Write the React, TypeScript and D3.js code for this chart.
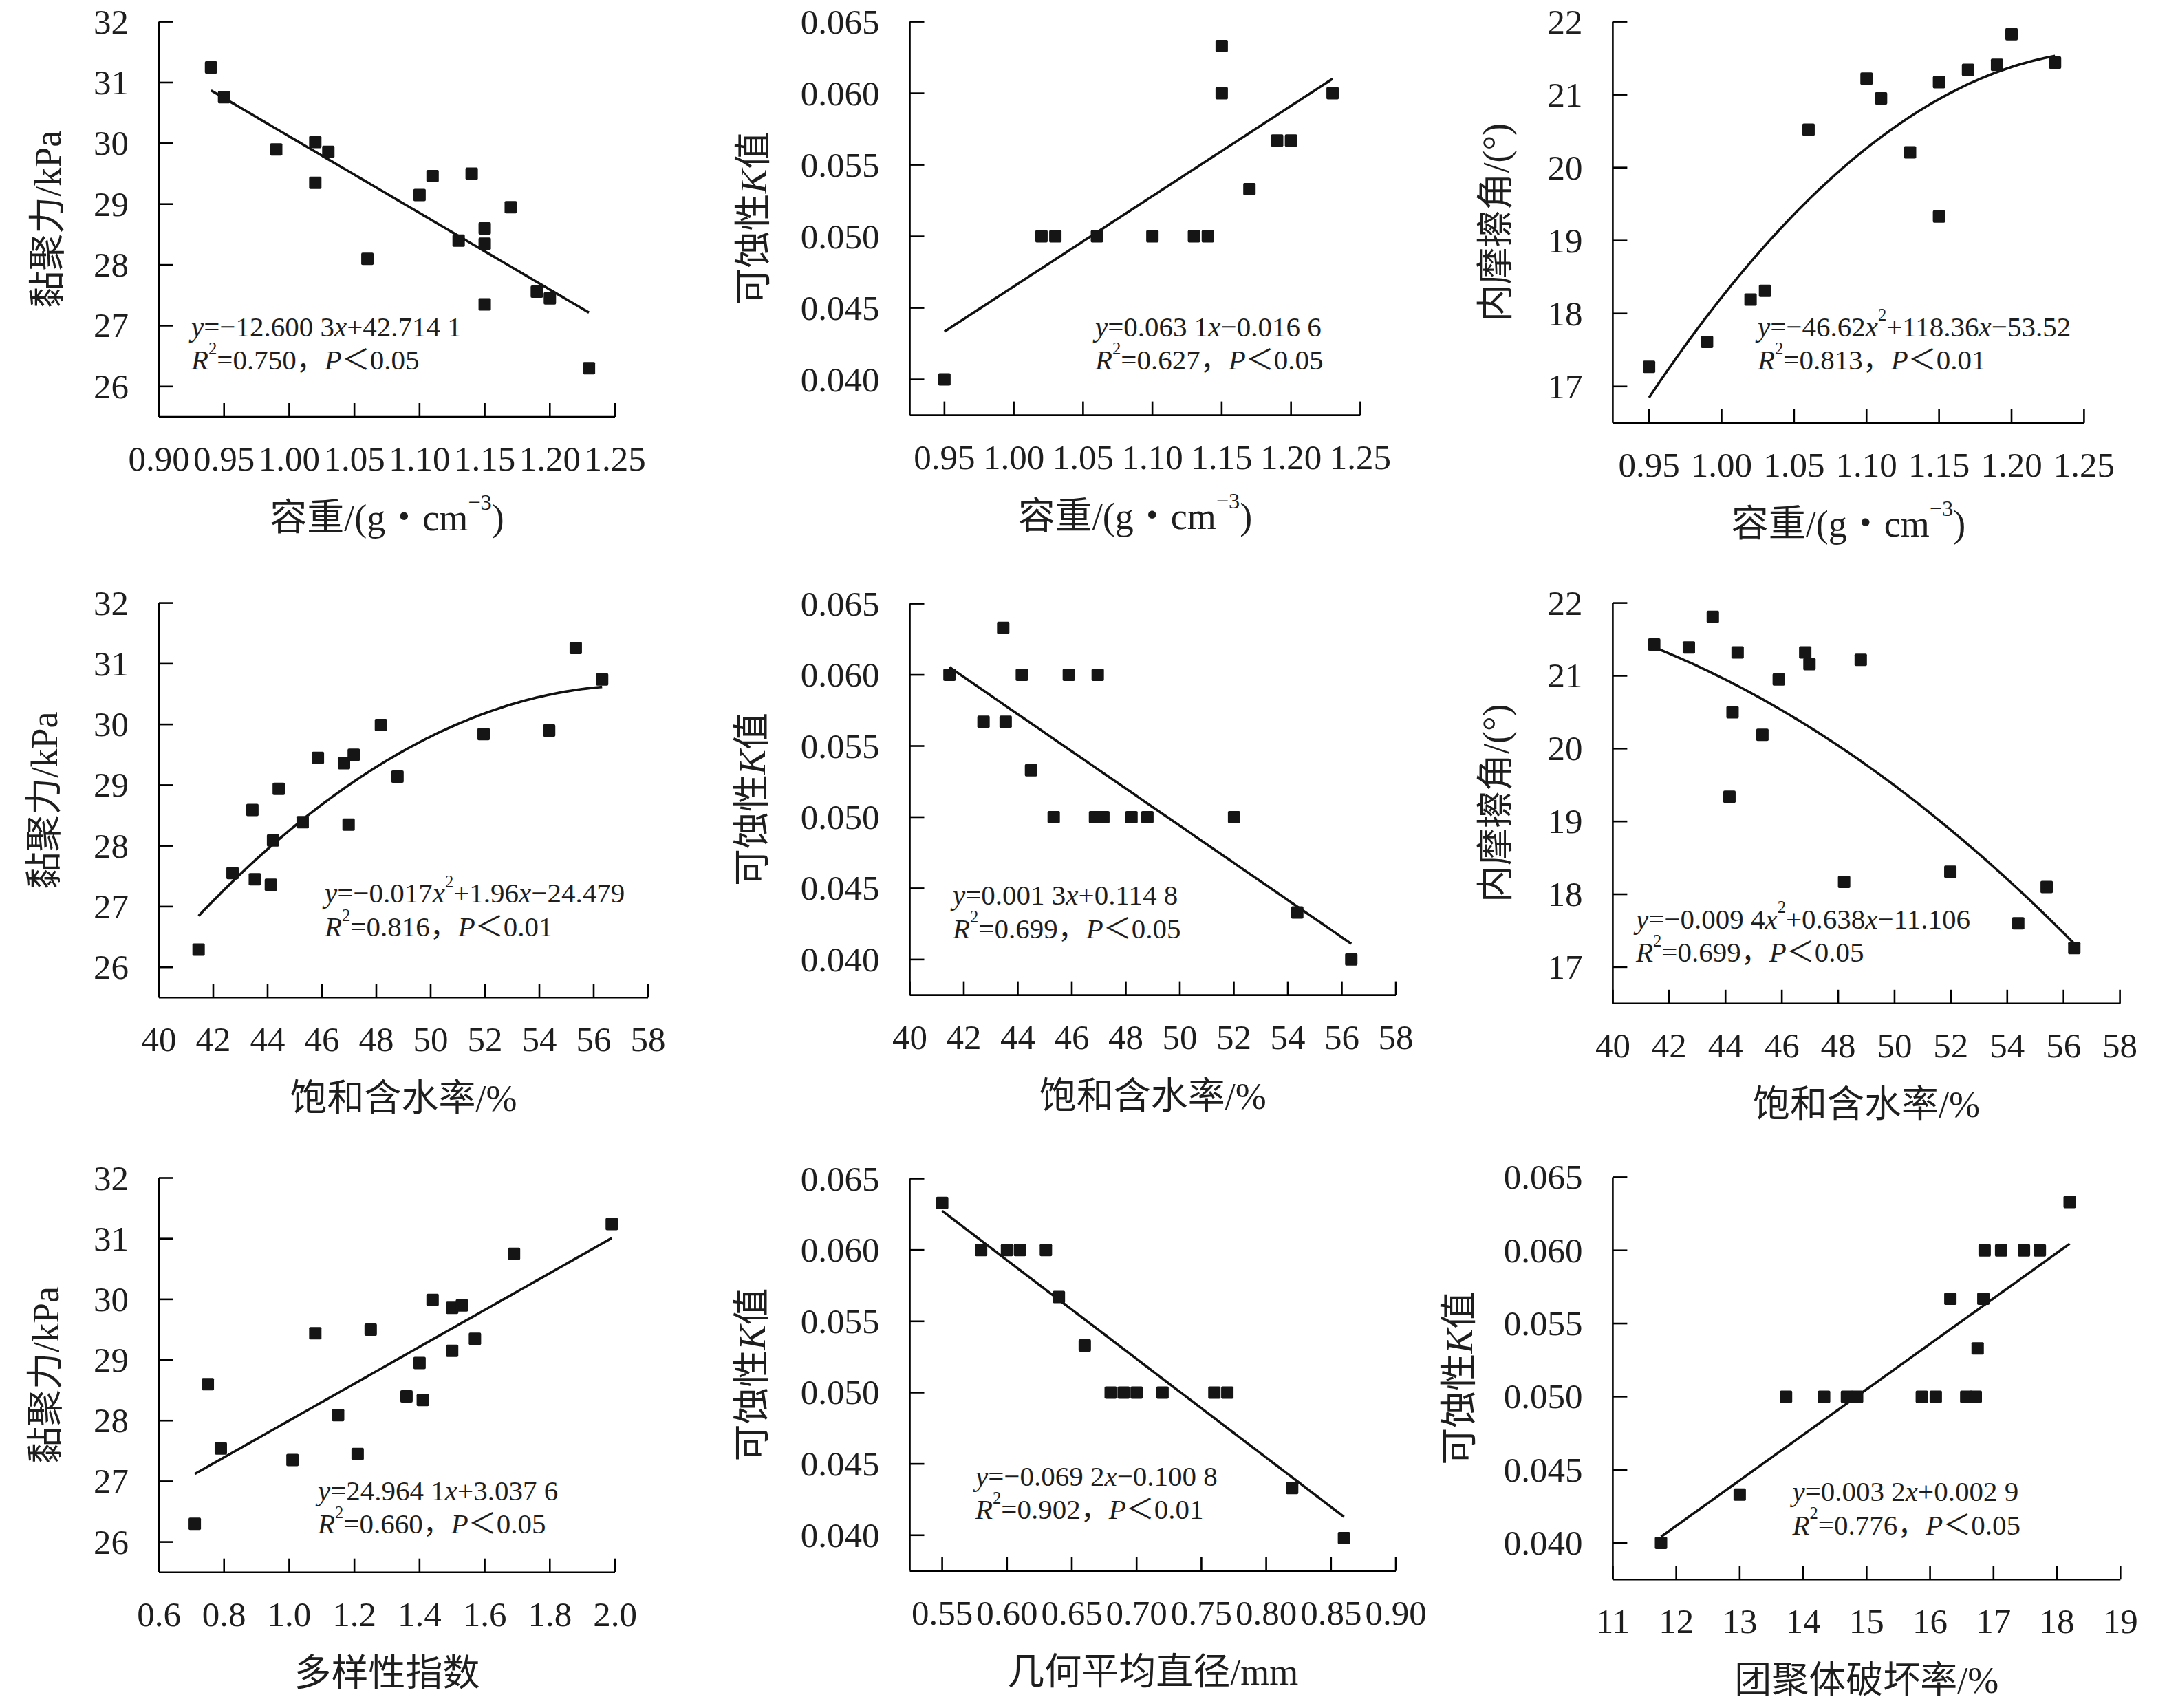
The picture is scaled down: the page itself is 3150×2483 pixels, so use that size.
import React from 'react';
import * as d3 from 'd3';

const W = 3150;
const H = 2483;
const FONT = '"Liberation Serif", "Times New Roman", "Noto Sans CJK SC", serif';
const INK = '#1e1e1e';

// ---------- tick values ----------
const bdTicksA = [0.9, 0.95, 1.0, 1.05, 1.1, 1.15, 1.2, 1.25];
const bdTicksB = [0.95, 1.0, 1.05, 1.1, 1.15, 1.2, 1.25];
const swcTicks = [40, 42, 44, 46, 48, 50, 52, 54, 56, 58];
const divTicks = [0.6, 0.8, 1.0, 1.2, 1.4, 1.6, 1.8, 2.0];
const gmdTicks = [0.55, 0.6, 0.65, 0.7, 0.75, 0.8, 0.85, 0.9];
const adrTicks = [11, 12, 13, 14, 15, 16, 17, 18, 19];
const cohTicks = [26, 27, 28, 29, 30, 31, 32];
const kTicks = [0.04, 0.045, 0.05, 0.055, 0.06, 0.065];
const phiTicks = [17, 18, 19, 20, 21, 22];

// ---------- data ----------
// (a) cohesion vs bulk density
const bdA = [0.94, 0.95, 0.99, 1.02, 1.03, 1.02, 1.06, 1.10, 1.11, 1.14, 1.13, 1.15, 1.15, 1.15, 1.17, 1.19, 1.20, 1.23];
const cohA = [31.25, 30.76, 29.90, 30.02, 29.86, 29.35, 28.10, 29.15, 29.46, 29.50, 28.40, 28.60, 28.35, 27.35, 28.95, 27.56, 27.45, 26.30];
// (b) K vs bulk density
const bdB = [0.95, 1.02, 1.03, 1.06, 1.10, 1.13, 1.14, 1.15, 1.15, 1.17, 1.19, 1.20, 1.23];
const kB = [0.0400, 0.0500, 0.0500, 0.0500, 0.0500, 0.0500, 0.0500, 0.0633, 0.0600, 0.0533, 0.0567, 0.0567, 0.0600];
// (c) friction angle vs bulk density
const bdC = [0.95, 0.99, 1.02, 1.03, 1.06, 1.10, 1.11, 1.13, 1.15, 1.15, 1.17, 1.19, 1.20, 1.23];
const phiC = [17.27, 17.61, 18.19, 18.31, 20.52, 21.22, 20.95, 20.21, 21.17, 19.33, 21.34, 21.41, 21.83, 21.44];
// (d) cohesion vs saturated water content
const swcD = [41.46, 42.71, 43.44, 43.53, 44.12, 44.20, 44.41, 45.29, 45.85, 46.81, 46.98, 47.17, 48.17, 48.78, 51.95, 54.36, 55.34, 56.31];
const cohD = [26.29, 27.55, 28.59, 27.45, 27.36, 28.09, 28.94, 28.39, 29.45, 29.36, 28.35, 29.50, 29.99, 29.14, 29.84, 29.90, 31.26, 30.74];
// (e) K vs saturated water content
const swcE = [41.47, 42.73, 43.46, 43.55, 44.15, 44.49, 45.33, 45.89, 46.86, 46.96, 47.17, 48.21, 48.80, 52.01, 54.35, 56.35];
const kE = [0.0600, 0.0567, 0.0633, 0.0567, 0.0600, 0.0533, 0.0500, 0.0600, 0.0500, 0.0600, 0.0500, 0.0500, 0.0500, 0.0500, 0.0433, 0.0400];
// (f) friction angle vs saturated water content
const swcF = [41.47, 42.70, 43.55, 44.14, 44.25, 44.43, 45.31, 45.89, 46.83, 46.98, 48.21, 48.80, 51.98, 54.39, 55.40, 56.38];
const phiF = [21.43, 21.39, 21.81, 19.34, 20.50, 21.32, 20.19, 20.95, 21.32, 21.16, 18.17, 21.22, 18.31, 17.60, 18.10, 17.26];
// (g) cohesion vs diversity index
const divG = [0.71, 0.75, 0.79, 1.01, 1.08, 1.15, 1.21, 1.25, 1.36, 1.40, 1.41, 1.44, 1.50, 1.53, 1.50, 1.57, 1.69, 1.99];
const cohG = [26.30, 28.60, 27.54, 27.35, 29.44, 28.09, 27.45, 29.50, 28.40, 28.95, 28.34, 29.99, 29.86, 29.90, 29.15, 29.35, 30.75, 31.24];
// (h) K vs geometric mean diameter
const gmdH = [0.55, 0.58, 0.60, 0.61, 0.63, 0.64, 0.66, 0.68, 0.69, 0.70, 0.72, 0.76, 0.77, 0.82, 0.86];
const kH = [0.0633, 0.0600, 0.0600, 0.0600, 0.0600, 0.0567, 0.0533, 0.0500, 0.0500, 0.0500, 0.0500, 0.0500, 0.0500, 0.0433, 0.0398];
// (i) K vs aggregate destruction rate
const adrI = [11.76, 13.00, 13.73, 14.33, 14.69, 14.85, 15.87, 16.09, 16.57, 16.72, 16.32, 16.84, 16.75, 16.86, 17.12, 17.48, 17.73, 18.20];
const kI = [0.0400, 0.0433, 0.0500, 0.0500, 0.0500, 0.0500, 0.0500, 0.0500, 0.0500, 0.0500, 0.0567, 0.0567, 0.0533, 0.0600, 0.0600, 0.0600, 0.0600, 0.0633];

// fitted curve coefficients (c0 + c1 x + c2 x^2)
const fitA = [42.7141, -12.6003];
const fitB = [-0.0166, 0.0631];
const fitC = [-53.52, 118.36, -46.62];
const fitD = [-17.70, 1.6785, -0.01457];
const fitE = [0.1147, -0.001306];
const fitF = [14.213, 0.5011, -0.00791];
const fitG = [24.9641, 3.0376];
const fitH = [0.1008, -0.0692];
const fitI = [0.00385, 0.00311];

type Seg = { t: string; i?: boolean; sup?: boolean };

const lblCoh: Seg[] = [{ t: '黏聚力/kPa' }];
const lblK: Seg[] = [{ t: '可蚀性' }, { t: 'K', i: true }, { t: '值' }];
const lblPhi: Seg[] = [{ t: '内摩擦角/(°)' }];
const lblBD: Seg[] = [{ t: '容重/(g・cm' }, { t: '−3', sup: true }, { t: ')' }];
const lblSWC: Seg[] = [{ t: '饱和含水率/%' }];
const lblDiv: Seg[] = [{ t: '多样性指数' }];
const lblGMD: Seg[] = [{ t: '几何平均直径/mm' }];
const lblADR: Seg[] = [{ t: '团聚体破坏率/%' }];

const r2 = (v: string, p: string): Seg[] => [
  { t: 'R', i: true }, { t: '2', sup: true }, { t: '=' + v + '，' }, { t: 'P', i: true }, { t: '＜' + p },
];

const eqA: Seg[] = [{ t: 'y', i: true }, { t: '=−12.600 3' }, { t: 'x', i: true }, { t: '+42.714 1' }];
const eqB: Seg[] = [{ t: 'y', i: true }, { t: '=0.063 1' }, { t: 'x', i: true }, { t: '−0.016 6' }];
const eqC: Seg[] = [{ t: 'y', i: true }, { t: '=−46.62' }, { t: 'x', i: true }, { t: '2', sup: true }, { t: '+118.36' }, { t: 'x', i: true }, { t: '−53.52' }];
const eqD: Seg[] = [{ t: 'y', i: true }, { t: '=−0.017' }, { t: 'x', i: true }, { t: '2', sup: true }, { t: '+1.96' }, { t: 'x', i: true }, { t: '−24.479' }];
const eqE: Seg[] = [{ t: 'y', i: true }, { t: '=0.001 3' }, { t: 'x', i: true }, { t: '+0.114 8' }];
const eqF: Seg[] = [{ t: 'y', i: true }, { t: '=−0.009 4' }, { t: 'x', i: true }, { t: '2', sup: true }, { t: '+0.638' }, { t: 'x', i: true }, { t: '−11.106' }];
const eqG: Seg[] = [{ t: 'y', i: true }, { t: '=24.964 1' }, { t: 'x', i: true }, { t: '+3.037 6' }];
const eqH: Seg[] = [{ t: 'y', i: true }, { t: '=−0.069 2' }, { t: 'x', i: true }, { t: '−0.100 8' }];
const eqI: Seg[] = [{ t: 'y', i: true }, { t: '=0.003 2' }, { t: 'x', i: true }, { t: '+0.002 9' }];

interface PanelCfg {
  xs: number[]; ys: number[]; fit: number[];
  xDomain: [number, number]; yDomain: [number, number];
  xTicks: number[]; yTicks: number[]; xFmt: string; yFmt: string;
  xLabel: Seg[]; yLabel: Seg[]; eq: Seg[]; stat: Seg[];
  left: number; right: number; top: number; bottom: number;
  yTitleOff: number; ann: [number, number];
}

const panels: PanelCfg[] = [
  { xs: bdA, ys: cohA, fit: fitA, xDomain: [0.9, 1.25], yDomain: [25.5, 32], xTicks: bdTicksA, yTicks: cohTicks, xFmt: '.2f', yFmt: 'd',
    xLabel: lblBD, yLabel: lblCoh, eq: eqA, stat: r2('0.750', '0.05'),
    left: 231, right: 894, top: 31.6, bottom: 606, yTitleOff: 161, ann: [278, 474.5] },
  { xs: bdB, ys: kB, fit: fitB, xDomain: [0.925, 1.25], yDomain: [0.0375, 0.065], xTicks: bdTicksB, yTicks: kTicks, xFmt: '.2f', yFmt: '.3f',
    xLabel: lblBD, yLabel: lblK, eq: eqB, stat: r2('0.627', '0.05'),
    left: 1322.5, right: 1977.4, top: 31.6, bottom: 603.6, yTitleOff: 227, ann: [1592, 474.5] },
  { xs: bdC, ys: phiC, fit: fitC, xDomain: [0.925, 1.25], yDomain: [16.5, 22], xTicks: bdTicksB, yTicks: phiTicks, xFmt: '.2f', yFmt: 'd',
    xLabel: lblBD, yLabel: lblPhi, eq: eqC, stat: r2('0.813', '0.01'),
    left: 2344.4, right: 3029.4, top: 31.6, bottom: 614.8, yTitleOff: 169, ann: [2555, 474.5] },
  { xs: swcD, ys: cohD, fit: fitD, xDomain: [40, 58], yDomain: [25.5, 32], xTicks: swcTicks, yTicks: cohTicks, xFmt: 'd', yFmt: 'd',
    xLabel: lblSWC, yLabel: lblCoh, eq: eqD, stat: r2('0.816', '0.01'),
    left: 231, right: 942, top: 876.6, bottom: 1450.3, yTitleOff: 166, ann: [472, 1298.4] },
  { xs: swcE, ys: kE, fit: fitE, xDomain: [40, 58], yDomain: [0.0375, 0.065], xTicks: swcTicks, yTicks: kTicks, xFmt: 'd', yFmt: '.3f',
    xLabel: lblSWC, yLabel: lblK, eq: eqE, stat: r2('0.699', '0.05'),
    left: 1322.5, right: 2029, top: 877.6, bottom: 1446.6, yTitleOff: 229, ann: [1385, 1301] },
  { xs: swcF, ys: phiF, fit: fitF, xDomain: [40, 58], yDomain: [16.5, 22], xTicks: swcTicks, yTicks: phiTicks, xFmt: 'd', yFmt: 'd',
    xLabel: lblSWC, yLabel: lblPhi, eq: eqF, stat: r2('0.699', '0.05'),
    left: 2344.4, right: 3081.6, top: 876.6, bottom: 1458.8, yTitleOff: 169, ann: [2378, 1335.5] },
  { xs: divG, ys: cohG, fit: fitG, xDomain: [0.6, 2.0], yDomain: [25.5, 32], xTicks: divTicks, yTicks: cohTicks, xFmt: '.1f', yFmt: 'd',
    xLabel: lblDiv, yLabel: lblCoh, eq: eqG, stat: r2('0.660', '0.05'),
    left: 231, right: 894, top: 1712.5, bottom: 2285.7, yTitleOff: 164, ann: [462, 2166.5] },
  { xs: gmdH, ys: kH, fit: fitH, xDomain: [0.525, 0.9], yDomain: [0.0375, 0.065], xTicks: gmdTicks, yTicks: kTicks, xFmt: '.2f', yFmt: '.3f',
    xLabel: lblGMD, yLabel: lblK, eq: eqH, stat: r2('0.902', '0.01'),
    left: 1322.5, right: 2029, top: 1713.5, bottom: 2283.6, yTitleOff: 229, ann: [1418, 2145.5] },
  { xs: adrI, ys: kI, fit: fitI, xDomain: [11, 19], yDomain: [0.0375, 0.065], xTicks: adrTicks, yTicks: kTicks, xFmt: 'd', yFmt: '.3f',
    xLabel: lblADR, yLabel: lblK, eq: eqI, stat: r2('0.776', '0.05'),
    left: 2344.4, right: 3082.3, top: 1711.4, bottom: 2296.2, yTitleOff: 222, ann: [2605.5, 2168] },
];

const TICK_FS = 51;
const TITLE_FS = 54;
const ANN_FS = 41;
const MARK = 18;

function rich(segs: Seg[], fs: number) {
  const out: React.ReactNode[] = [];
  let up = false;
  segs.forEach((s, k) => {
    let dy: number | undefined;
    if (s.sup && !up) { dy = -0.42 * fs; up = true; }
    else if (!s.sup && up) { dy = 0.42 * fs; up = false; }
    out.push(
      <tspan key={k} dy={dy} fontStyle={s.i ? 'italic' : undefined} fontSize={s.sup ? fs * 0.6 : undefined}>
        {s.t}
      </tspan>
    );
  });
  return out;
}

function Panel({ c }: { c: PanelCfg }) {
  const x = d3.scaleLinear().domain(c.xDomain).range([c.left, c.right]);
  const y = d3.scaleLinear().domain(c.yDomain).range([c.bottom, c.top]);
  const fx = d3.format(c.xFmt);
  const fy = d3.format(c.yFmt);
  const poly = (v: number) => c.fit.reduce((s, a, i) => s + a * Math.pow(v, i), 0);
  const [x0, x1] = d3.extent(c.xs) as [number, number];
  const n = 80;
  const curve = d3.range(n + 1).map((i) => x0 + ((x1 - x0) * i) / n);
  const path = d3.line<number>().x((v) => x(v)).y((v) => y(poly(v)))(curve) || '';
  const cy = (c.top + c.bottom) / 2;
  const cx = (c.left + c.right) / 2;
  return (
    <g>
      <line x1={c.left} y1={c.top} x2={c.left} y2={c.bottom} stroke="#000" strokeWidth={2.6} />
      <line x1={c.left} y1={c.bottom} x2={c.right} y2={c.bottom} stroke="#000" strokeWidth={2.6} />
      {c.yTicks.map((t) => (
        <g key={'y' + t}>
          <line x1={c.left} x2={c.left + 21} y1={y(t)} y2={y(t)} stroke="#000" strokeWidth={2.6} />
          <text x={c.left - 44} y={y(t)} textAnchor="end" dominantBaseline="central" fontSize={TICK_FS} fill={INK}>
            {fy(t)}
          </text>
        </g>
      ))}
      {c.xTicks.map((t) => (
        <g key={'x' + t}>
          <line x1={x(t)} x2={x(t)} y1={c.bottom} y2={c.bottom - 20} stroke="#000" strokeWidth={2.6} />
          <text x={x(t)} y={c.bottom + 61} textAnchor="middle" dominantBaseline="central" fontSize={TICK_FS} fill={INK}>
            {fx(t)}
          </text>
        </g>
      ))}
      <text x={cx} y={c.bottom + 147} textAnchor="middle" dominantBaseline="central" fontSize={TITLE_FS} fill={INK}>
        {rich(c.xLabel, TITLE_FS)}
      </text>
      <text
        transform={`translate(${c.left - c.yTitleOff},${cy}) rotate(-90)`}
        textAnchor="middle"
        dominantBaseline="central"
        fontSize={TITLE_FS}
        fill={INK}
      >
        {rich(c.yLabel, TITLE_FS)}
      </text>
      <path d={path} fill="none" stroke="#111" strokeWidth={3.6} />
      {c.xs.map((v, i) => (
        <rect key={i} x={x(v) - MARK / 2} y={y(c.ys[i]) - MARK / 2} width={MARK} height={MARK} rx={2} fill="#151515" />
      ))}
      <text x={c.ann[0]} y={c.ann[1]} dominantBaseline="central" fontSize={ANN_FS} fill={INK}>
        {rich(c.eq, ANN_FS)}
      </text>
      <text x={c.ann[0]} y={c.ann[1] + 48.5} dominantBaseline="central" fontSize={ANN_FS} fill={INK}>
        {rich(c.stat, ANN_FS)}
      </text>
    </g>
  );
}

export default function App() {
  return (
    <svg
      width={W}
      height={H}
      viewBox={`0 0 ${W} ${H}`}
      style={{ position: 'absolute', left: 0, top: 0, background: '#fff' }}
      fontFamily={FONT}
    >
      <rect x={0} y={0} width={W} height={H} fill="#fff" />
      {panels.map((c, i) => (
        <Panel key={i} c={c} />
      ))}
    </svg>
  );
}
